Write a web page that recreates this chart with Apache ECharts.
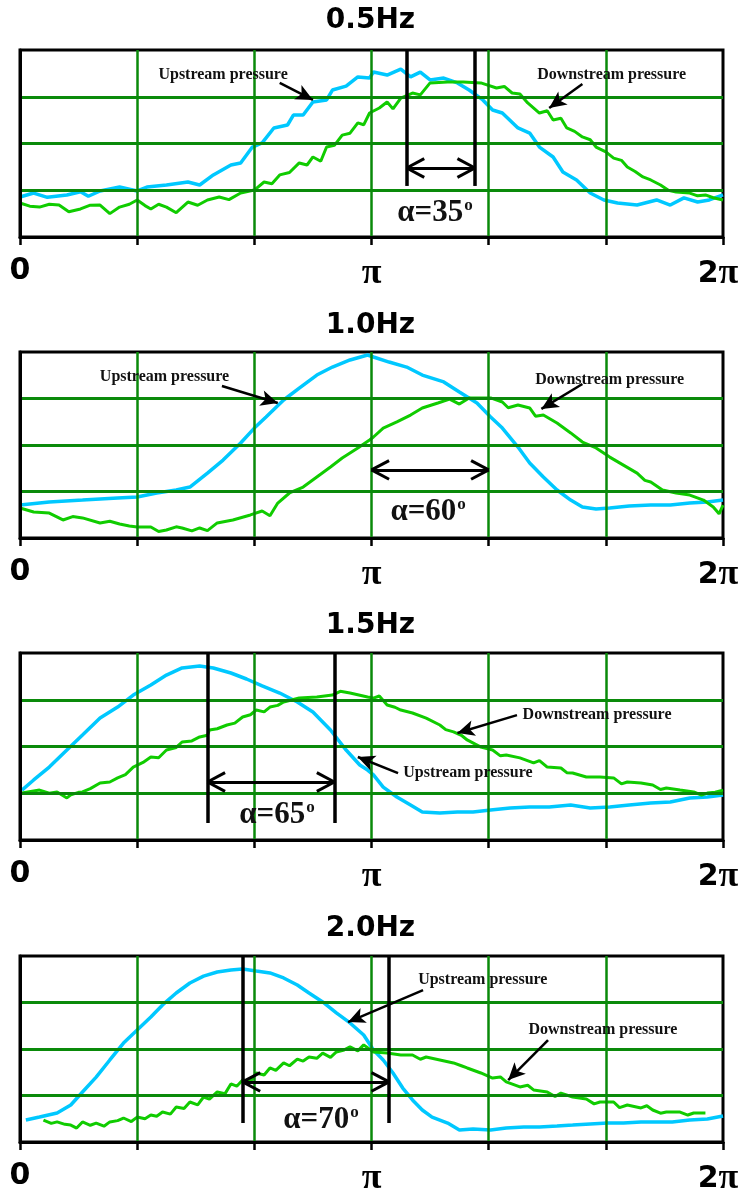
<!DOCTYPE html>
<html>
<head>
<meta charset="utf-8">
<script src="https://cdn.jsdelivr.net/npm/echarts@6/dist/echarts.min.js"></script>
<style>html,body{margin:0;padding:0;background:#fff;overflow:hidden}#c{width:741px;height:1189px}</style>
</head>
<body>
<div id="c"></div>
<script>
// ---------- data ----------
const TITLES = ['0.5Hz', '1.0Hz', '1.5Hz', '2.0Hz'];
const X_TICKS = [0, 60, 120, 180, 240, 300, 360];
const X_TICK_LABELS = ['0', '', '', 'π', '', '', '2π'];
const ALPHA_DEG = ['35', '60', '65', '70'];
const SERIES_NAMES = ['Upstream pressure', 'Downstream pressure'];

// phase (x, degrees) , pressure (0..100 of panel height)
const up05 = [[0,21.4],[7,23.5],[14,21.2],[24,22.5],[31,24.2],[35,21.8],[41,24.6],[51,26.7],[60,24.6],[65,26.7],[75,27.8],[86,29.4],[92,27.8],[99,33.2],[108,38.5],[113,39.6],[119,48.1],[124,50.3],[130,58.3],[137,59.9],[140,65.2],[145,65.2],[150,72.2],[157,73.3],[160,78.6],[167,80.7],[173,85.6],[179,85.0],[181,88.2],[188,86.6],[195,89.8],[200,85.6],[205,88.2],[210,84.0],[217,85.0],[224,82.4],[230,78.6],[237,73.3],[242,67.9],[247,66.3],[255,58.3],[261,55.6],[266,48.1],[273,42.8],[278,34.8],[285,30.5],[292,23.5],[299,19.8],[306,18.2],[316,17.1],[326,19.8],[333,17.1],[340,20.9],[347,18.7],[353,19.8],[360,22.5]];
const down05 = [[0,18.2],[5,16.5],[10,16.0],[15,17.5],[20,17.1],[25,13.5],[31,15.0],[36,17.0],[41,17.1],[46,12.5],[51,16.0],[56,17.5],[60,19.8],[64,16.8],[67,15.0],[71,17.5],[75,16.0],[80,13.0],[86,18.7],[91,17.0],[96,19.8],[102,21.4],[107,20.0],[113,23.5],[120,25.1],[125,29.4],[129,28.5],[133,33.2],[138,34.5],[143,39.6],[147,38.5],[150,42.8],[154,40.5],[157,48.1],[161,49.0],[165,54.5],[169,55.5],[173,61.0],[176,60.0],[179,66.3],[184,69.0],[188,72.2],[191,68.5],[195,74.3],[201,77.0],[205,76.0],[210,82.4],[219,82.9],[227,82.9],[236,82.4],[244,79.7],[248,80.5],[252,77.0],[256,76.5],[260,71.7],[266,66.3],[270,67.5],[273,62.6],[277,63.5],[280,58.3],[284,56.5],[288,53.5],[292,52.0],[295,48.1],[300,45.5],[304,42.2],[308,41.0],[311,37.4],[315,35.0],[319,32.1],[323,30.5],[328,27.8],[332,25.0],[336,24.1],[343,23.5],[347,22.0],[351,22.5],[355,21.0],[360,19.8]];

const up10 = [[0,17.7],[15,19.4],[32,20.4],[50,21.5],[60,22.0],[70,24.2],[80,25.8],[87,27.4],[96,34.9],[104,41.9],[113,51.1],[120,59.1],[126,65.1],[135,74.2],[143,80.6],[152,87.6],[160,91.9],[169,95.7],[178,98.4],[181,97.3],[189,94.6],[198,91.9],[206,87.6],[217,83.9],[225,78.5],[234,72.6],[241,65.1],[247,59.1],[255,48.9],[261,40.3],[268,32.8],[275,25.8],[282,20.4],[288,16.7],[295,15.6],[302,16.1],[312,17.2],[323,17.7],[333,17.7],[343,18.8],[352,19.4],[360,20.4]];
const down10 = [[0,16.1],[7,14.0],[15,13.4],[22,9.7],[27,11.5],[32,10.8],[41,8.1],[46,9.0],[51,7.5],[56,6.5],[60,5.9],[67,5.9],[71,3.5],[75,4.3],[80,6.0],[83,5.4],[88,3.8],[92,5.4],[96,4.0],[101,8.1],[109,9.7],[118,12.4],[124,14.5],[128,12.0],[132,18.8],[138,24.2],[145,27.4],[152,32.8],[159,38.2],[165,43.0],[173,48.4],[179,52.7],[181,54.3],[186,59.1],[193,62.4],[200,66.1],[206,69.9],[214,72.6],[220,74.7],[225,72.0],[230,75.3],[241,75.3],[247,73.1],[250,70.0],[255,71.5],[261,69.9],[264,65.5],[268,66.1],[275,61.8],[282,56.5],[288,51.6],[295,48.4],[302,43.5],[309,39.2],[316,34.9],[320,31.0],[323,30.1],[329,25.8],[336,24.2],[343,23.1],[350,20.4],[355,16.7],[358,13.0],[360,17.7]];

const up15 = [[1,26.7],[7,32.1],[15,39.0],[24,48.1],[32,56.1],[41,65.2],[50,71.1],[58,77.5],[67,82.9],[75,88.2],[83,92.0],[92,93.0],[99,92.0],[108,89.3],[116,86.1],[124,82.4],[133,78.6],[142,73.8],[150,68.4],[159,58.8],[167,48.1],[174,40.1],[178,37.4],[181,34.8],[186,28.3],[193,23.0],[200,18.7],[206,15.0],[215,14.4],[224,15.0],[232,15.0],[241,16.0],[251,17.1],[261,17.6],[271,17.6],[282,18.7],[292,17.1],[302,17.6],[312,18.7],[323,19.8],[333,20.3],[343,22.5],[352,23.0],[360,24.1]];
const down15 = [[1,25.1],[10,26.7],[15,25.0],[19,25.7],[24,22.5],[26,24.1],[30,25.5],[32,25.7],[36,27.5],[41,30.5],[46,31.0],[50,33.2],[54,35.0],[58,39.0],[63,41.5],[67,44.4],[71,44.0],[75,48.1],[80,49.5],[83,52.4],[88,53.0],[92,55.1],[96,56.0],[97,58.8],[101,59.5],[106,61.5],[110,62.5],[114,65.8],[118,67.0],[121,69.5],[125,68.5],[128,71.1],[132,72.0],[135,73.8],[143,75.9],[152,76.5],[160,77.5],[164,79.5],[169,78.6],[178,76.5],[181,75.9],[184,77.0],[188,72.2],[192,71.0],[195,69.5],[201,67.9],[208,65.2],[215,61.5],[218,59.0],[222,57.8],[226,56.0],[229,53.5],[236,49.7],[242,48.1],[246,45.0],[249,45.5],[256,43.9],[263,41.2],[266,42.5],[270,39.0],[277,38.5],[280,36.0],[283,35.8],[290,33.7],[297,33.7],[304,33.2],[308,30.0],[311,31.0],[318,30.5],[324,29.4],[328,27.0],[331,27.8],[338,26.7],[345,25.7],[349,24.0],[352,25.1],[356,25.5],[360,26.7]];

const up20 = [[3,11.8],[10,13.4],[19,15.6],[26,19.9],[32,26.9],[39,34.9],[46,44.1],[53,53.2],[60,60.2],[67,67.2],[73,73.7],[80,80.1],[87,85.5],[94,89.2],[101,91.4],[108,92.5],[114,93.0],[121,91.9],[128,90.9],[135,88.2],[142,84.4],[148,80.1],[155,75.3],[162,69.4],[169,64.0],[176,57.5],[181,49.5],[186,44.1],[191,37.1],[196,29.0],[201,22.6],[206,17.2],[211,13.4],[219,10.2],[225,6.5],[232,7.0],[241,6.5],[249,7.5],[258,8.1],[266,8.1],[275,8.6],[283,9.1],[292,9.7],[301,10.2],[309,10.2],[318,10.8],[326,10.8],[334,10.8],[343,11.8],[352,12.4],[360,14.0]];
const down20 = [[12,11.8],[16,10.0],[19,10.8],[23,9.5],[26,9.1],[29,7.5],[32,10.8],[36,9.0],[39,10.2],[43,8.5],[46,10.8],[50,11.5],[53,12.9],[57,11.0],[60,13.4],[64,12.5],[67,14.5],[70,13.8],[73,16.1],[77,15.0],[80,18.8],[84,18.0],[87,21.5],[91,20.0],[94,24.2],[97,23.0],[101,26.9],[105,26.0],[108,31.2],[111,30.0],[114,33.3],[118,32.5],[121,37.1],[125,36.0],[128,39.8],[131,38.5],[135,42.5],[138,41.0],[142,44.6],[145,43.5],[148,45.7],[152,45.0],[155,47.8],[159,45.5],[162,48.4],[166,49.5],[169,51.1],[173,49.0],[176,52.2],[181,48.4],[188,47.8],[195,46.8],[201,46.8],[205,44.5],[208,45.7],[215,44.1],[222,42.5],[226,41.0],[229,39.8],[236,37.1],[242,34.4],[246,35.0],[249,32.3],[256,29.6],[260,30.5],[263,28.0],[270,26.9],[274,24.5],[277,26.3],[283,24.2],[290,23.1],[294,20.5],[297,21.5],[304,21.5],[307,18.5],[311,19.9],[318,18.3],[321,19.5],[324,17.2],[328,15.5],[331,16.1],[338,16.1],[342,14.5],[345,15.6],[351,15.6]];

const UP = [up05, up10, up15, up20];
const DOWN = [down05, down10, down15, down20];

// phase-difference spans (degrees)
const ALPHA_SPANS = [[198, 233], [180, 240], [96, 161], [114, 189]];
const SHOW_PHASE_LINES = [true, false, true, true];

// ---------- layout (annotation placement, in data units) ----------
const GRID_TOPS = [50, 352, 653, 956];
const GRID_HEIGHTS = [187, 186, 187, 186];
const TITLE_TOPS = [7, 312, 612, 915];
const ANNOT = [
  { arrowY: 36.9, lineBottom: 27.3, alpha: [212.5, 12.8],
    up: { text: [104, 86.6], from: [133, 82.4], to: [150, 73.3] },
    down: { text: [303, 86.6], from: [288, 81.8], to: [271, 69.0] } },
  { arrowY: 36.6, lineBottom: 0, alpha: [209, 14],
    up: { text: [74, 86.6], from: [103.4, 81.7], to: [132, 72.6] },
    down: { text: [302, 85], from: [288, 82.8], to: [267, 69.4] } },
  { arrowY: 31, lineBottom: 9.1, alpha: [131.6, 13.4],
    up: { text: [229.4, 35.8], from: [193.6, 35.8], to: [173, 44.4] },
    down: { text: [295.5, 66.8], from: [254.5, 66.8], to: [224, 57.2] } },
  { arrowY: 32.3, lineBottom: 10.2, alpha: [154.1, 11.8],
    up: { text: [237, 87.1], from: [206.4, 81.7], to: [168, 64.5] },
    down: { text: [298.5, 60.2], from: [270.4, 54.8], to: [250, 33.3] } }
];

const GRID_GREEN = '#0a8a0a';
const UP_COLOR = '#00c8ff';
const DOWN_COLOR = '#10cc00';

function tickLabel(v) {
  const i = X_TICKS.indexOf(v);
  const s = i >= 0 ? X_TICK_LABELS[i] : '';
  return s.split('').map((c, k) => c === 'π' ? (k > 0 ? '{q|π}' : '{p|π}') : '{s|' + c + '}').join('');
}

const grids = [], xAxes = [], yAxes = [], series = [], titles = [];
for (let i = 0; i < 4; i++) {
  grids.push({ left: 20, right: 18, top: GRID_TOPS[i], height: GRID_HEIGHTS[i],
    outerBoundsMode: 'none', containLabel: false,
    show: true, borderColor: '#000', borderWidth: 3, backgroundColor: 'transparent' });
  titles.push({ text: TITLES[i], left: 'center', top: TITLE_TOPS[i], padding: 0,
    textStyle: { fontFamily: 'DejaVu Sans', fontWeight: 'bold', fontSize: 28, color: '#000' } });
  xAxes.push({ gridIndex: i, type: 'value', min: 0, max: 360, interval: 60, z: 3,
    axisLine: { show: true, onZero: false, lineStyle: { color: '#000', width: 3 } },
    axisTick: { show: true, inside: false, length: 8, lineStyle: { color: '#000', width: 2.5 } },
    axisLabel: { show: true, margin: 19, showMinLabel: true, showMaxLabel: true, formatter: tickLabel,
      rich: { s: { fontFamily: 'DejaVu Sans', fontWeight: 'bold', fontSize: 30, color: '#000' },
              p: { fontFamily: 'Liberation Serif', fontWeight: 'bold', fontSize: 36, color: '#000' },
              q: { fontFamily: 'Liberation Serif', fontWeight: 'bold', fontSize: 36, color: '#000', padding: [0, 10, 0, 0] } } },
    splitLine: { show: true, showMinLine: false, showMaxLine: false, lineStyle: { color: GRID_GREEN, width: 2.5 } } });
  yAxes.push({ gridIndex: i, type: 'value', min: 0, max: 100, interval: 25, z: 3,
    axisLine: { show: true, onZero: false, lineStyle: { color: '#000', width: 3 } },
    axisTick: { show: false }, axisLabel: { show: false },
    splitLine: { show: true, showMinLine: false, showMaxLine: false, lineStyle: { color: GRID_GREEN, width: 3 } } });

  series.push({ name: SERIES_NAMES[0], type: 'line', xAxisIndex: i, yAxisIndex: i, data: UP[i],
    showSymbol: false, symbol: 'none', z: 2, lineStyle: { color: UP_COLOR, width: 3.5 }, itemStyle: { color: UP_COLOR } });
  series.push({ name: SERIES_NAMES[1], type: 'line', xAxisIndex: i, yAxisIndex: i, data: DOWN[i],
    showSymbol: false, symbol: 'none', z: 2, lineStyle: { color: DOWN_COLOR, width: 3 }, itemStyle: { color: DOWN_COLOR } });

  // annotations
  const a = ANNOT[i];
  const [xa, xb] = ALPHA_SPANS[i];
  const y = a.arrowY;
  const seg = (p, q, w) => [{ coord: p, symbol: 'none', lineStyle: { color: '#000', width: w, type: 'solid' } },
                            { coord: q, symbol: 'none', lineStyle: { color: '#000', width: w, type: 'solid' } }];
  const ptr = (p, q) => [{ coord: p, symbol: 'none', lineStyle: { color: '#000', width: 2.5, type: 'solid' } },
                         { coord: q, symbol: 'arrow', symbolSize: [12, 17], lineStyle: { color: '#000', width: 2.5, type: 'solid' } }];
  const lines = [
    seg([xa, y], [xb, y], 3),
    seg([xa, y], [xa + 9, y + 5], 3), seg([xa, y], [xa + 9, y - 5], 3),
    seg([xb, y], [xb - 9, y + 5], 3), seg([xb, y], [xb - 9, y - 5], 3),
    ptr(a.up.from, a.up.to), ptr(a.down.from, a.down.to)
  ];
  if (SHOW_PHASE_LINES[i]) {
    lines.push(seg([xa, 100], [xa, a.lineBottom], 3.5));
    lines.push(seg([xb, 100], [xb, a.lineBottom], 3.5));
  }
  const txt = (c, s) => ({ coord: c, value: s, symbol: 'rect', symbolSize: 1,
    itemStyle: { color: 'rgba(0,0,0,0)' },
    label: { show: true, position: 'inside', formatter: s, color: '#111', textBorderWidth: 0,
      fontFamily: 'Liberation Serif', fontWeight: 'bold', fontSize: 16 } });
  series.push({ type: 'line', xAxisIndex: i, yAxisIndex: i, data: [], z: 10, silent: true,
    markLine: { silent: true, animation: false, symbol: ['none', 'none'], label: { show: false },
      emphasis: { disabled: true }, data: lines },
    markPoint: { silent: true, animation: false, data: [
      txt(a.up.text, SERIES_NAMES[0]),
      txt(a.down.text, SERIES_NAMES[1]),
      { coord: a.alpha, value: 'a', symbol: 'rect', symbolSize: 1, itemStyle: { color: 'rgba(0,0,0,0)' },
        label: { show: true, position: 'inside', color: '#111', textBorderWidth: 0,
          formatter: '{a|α=' + ALPHA_DEG[i] + '}{o|o}',
          rich: { a: { fontFamily: 'Liberation Serif', fontWeight: 'bold', fontSize: 31, color: '#111' },
                  o: { fontFamily: 'Liberation Serif', fontWeight: 'bold', fontSize: 17, color: '#111', verticalAlign: 'top', padding: [0, 0, 10, 1] } } } }
    ] } });
}

const chart = echarts.init(document.getElementById('c'), null, { renderer: 'canvas' });
chart.setOption({ animation: false, backgroundColor: '#fff', title: titles, grid: grids,
  xAxis: xAxes, yAxis: yAxes, series: series });
</script>
</body>
</html>
